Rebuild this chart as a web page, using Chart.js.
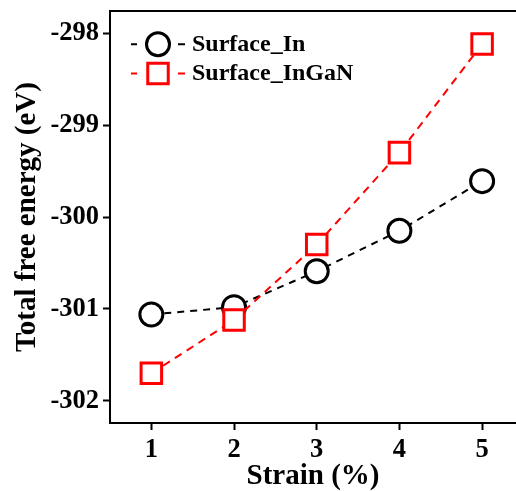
<!DOCTYPE html>
<html><head><meta charset="utf-8">
<script src="https://cdn.jsdelivr.net/npm/chart.js@4/dist/chart.umd.min.js"></script>
<style>
html,body{margin:0;padding:0;overflow:hidden;background:#fff;width:516px;height:491px}
#wrap{position:relative;width:516px;height:491px}
</style></head>
<body><div id="wrap"><canvas id="c" width="516" height="491"></canvas></div>
<script>
const strain = [1, 2, 3, 4, 5];
const surfaceIn = [-301.06, -300.98, -300.59, -300.15, -299.61];
const surfaceInGaN = [-301.70, -301.12, -300.30, -299.30, -298.12];
const yTicks = [-302, -301, -300, -299, -298];
const xTicks = [1, 2, 3, 4, 5];
const seriesNames = ['Surface_In', 'Surface_InGaN'];
const FONT = '"Liberation Serif", "Times New Roman", serif';

const frameAndLegend = {
  id: 'frameAndLegend',
  afterDraw(chart) {
    const ctx = chart.ctx;
    const a = chart.chartArea;
    ctx.save();
    ctx.fillStyle = '#fff';
    ctx.fillRect(a.right - 3, a.top + 2, 3, a.bottom - a.top - 4);
    ctx.strokeStyle = '#000';
    ctx.lineWidth = 2;
    ctx.beginPath();
    ctx.moveTo(a.left - 1, a.top);
    ctx.lineTo(a.right + 10, a.top);
    ctx.stroke();
    const rows = [a.top + 33.3, a.top + 62.4];
    chart.data.datasets.forEach((ds, i) => {
      const y = rows[i];
      const x0 = a.left;
      ctx.strokeStyle = ds.borderColor;
      ctx.lineWidth = 2;
      ctx.setLineDash([]);
      ctx.beginPath();
      ctx.moveTo(x0 + 21, y); ctx.lineTo(x0 + 27, y);
      ctx.moveTo(x0 + 68, y); ctx.lineTo(x0 + 75, y);
      ctx.stroke();
      ctx.fillStyle = '#fff';
      ctx.lineWidth = ds.pointBorderWidth;
      Chart.helpers.drawPoint(ctx, {pointStyle: ds.pointStyle, radius: ds.pointRadius, borderWidth: ds.pointBorderWidth, rotation: 0}, x0 + 48, y);
      ctx.fillStyle = '#000';
      ctx.font = 'bold 24px ' + FONT;
      ctx.textBaseline = 'middle';
      ctx.textAlign = 'left';
      ctx.fillText(ds.label, x0 + 82, y + 0.8);
    });
    ctx.restore();
  }
};

new Chart(document.getElementById('c'), {
  type: 'line',
  data: {
    datasets: [
      {
        label: seriesNames[0],
        data: strain.map((x, i) => ({x, y: surfaceIn[i]})),
        borderColor: '#000',
        borderWidth: 2,
        borderDash: [7, 6],
        pointStyle: 'circle',
        pointRadius: 11.5,
        pointBorderWidth: 3,
        pointBackgroundColor: '#fff',
        pointBorderColor: '#000',
        tension: 0,
        order: 1
      },
      {
        label: seriesNames[1],
        data: strain.map((x, i) => ({x, y: surfaceInGaN[i]})),
        borderColor: '#ff0000',
        borderWidth: 2,
        borderDash: [8, 6],
        pointStyle: 'rect',
        pointRadius: 14.5,
        pointBorderWidth: 3,
        pointBackgroundColor: '#fff',
        pointBorderColor: '#ff0000',
        tension: 0,
        order: 0
      }
    ]
  },
  options: {
    responsive: false,
    animation: false,
    events: [],
    layout: {autoPadding: false, padding: {left: 0, top: 11, right: 0, bottom: 0}},
    plugins: {legend: {display: false}, tooltip: {enabled: false}},
    scales: {
      x: {
        type: 'linear',
        min: 0.5, max: 5.41,
        afterBuildTicks: s => { s.ticks = xTicks.map(v => ({value: v})); },
        afterFit: s => { s.height = 68; s.paddingLeft = 0; s.paddingRight = 0; },
        grid: {drawOnChartArea: false, drawTicks: true, tickLength: 7, tickWidth: 2, color: '#000'},
        border: {display: true, color: '#000', width: 2},
        ticks: {color: '#000', padding: 4, font: {family: FONT, size: 26.5, weight: 'bold'}, callback: v => String(v), maxRotation: 0},
        title: {display: true, text: 'Strain (%)', color: '#000', font: {family: FONT, size: 29, weight: 'bold', lineHeight: 1}, padding: {top: 0, bottom: 0}}
      },
      y: {
        type: 'linear',
        min: -302.24, max: -297.76,
        afterBuildTicks: s => { s.ticks = yTicks.map(v => ({value: v})); },
        afterFit: s => { s.width = 110; s.paddingTop = 0; s.paddingBottom = 0; },
        grid: {drawOnChartArea: false, drawTicks: true, tickLength: 7, tickWidth: 2, color: '#000'},
        border: {display: true, color: '#000', width: 2},
        ticks: {color: '#000', padding: 4, font: {family: FONT, size: 26.5, weight: 'bold'}, callback: v => String(v)},
        title: {display: true, text: 'Total free energy (eV)', color: '#000', font: {family: FONT, size: 29, weight: 'bold', lineHeight: 1}, padding: {top: 13.5, bottom: 0}}
      }
    }
  },
  plugins: [frameAndLegend]
});
</script>
</body></html>
